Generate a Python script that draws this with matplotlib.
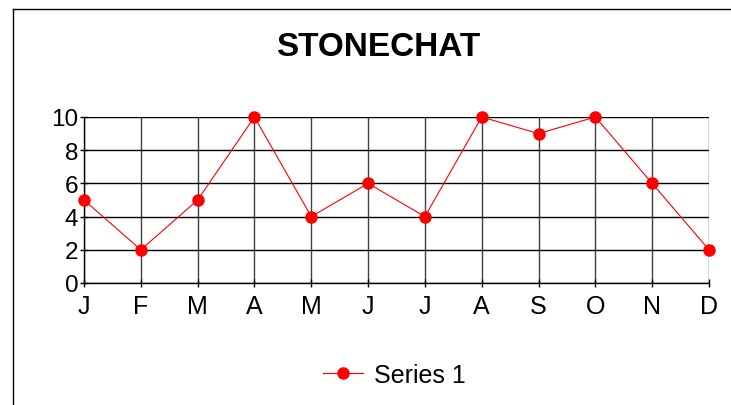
import matplotlib
matplotlib.use("Agg")
import matplotlib.pyplot as plt
from matplotlib.lines import Line2D

months = ["J", "F", "M", "A", "M", "J", "J", "A", "S", "O", "N", "D"]
values = [5, 2, 5, 10, 4, 6, 4, 10, 9, 10, 6, 2]
yticks = [0, 2, 4, 6, 8, 10]
title = "STONECHAT"
series_name = "Series 1"

plt.rcParams['font.family'] = ['Liberation Sans', 'DejaVu Sans']

W, H = 731, 406
fig = plt.figure(figsize=(W / 100, H / 100), dpi=100)
ax = fig.add_axes([84 / W, 1 - 284 / H, (709 - 84) / W, (284 - 118) / H])

x = list(range(len(months)))
ax.plot(x, values, color="red", linewidth=0.8, marker="o", markersize=8,
        markerfacecolor="red", markeredgecolor="red", label=series_name, clip_on=False, zorder=5)

ax.set_xlim(0, len(months) - 1)
ax.set_ylim(0, 10)
ax.set_xticks(x)
ax.set_xticklabels(months, fontsize=18)
ax.set_yticks(yticks)
ax.set_yticklabels([str(v) for v in yticks], fontsize=17.5)
ax.tick_params(axis="both", length=6, width=1, color="black", direction="inout")
ax.tick_params(axis="y", pad=1)
ax.tick_params(axis="x", pad=5)
ax.grid(True, axis="y", color="black", linewidth=1)
ax.grid(True, axis="x", color="#404040", linewidth=1)
for s in ["top", "right"]:
    ax.spines[s].set_visible(False)
ax.spines["left"].set_linewidth(1)
ax.spines["bottom"].set_linewidth(1)
ax.set_axisbelow(True)

fig.text(378 / W, 1 - 48 / H, title, fontsize=24, fontweight="bold", ha="center", va="center")

handle = Line2D([], [], color="red", linewidth=0.8, marker="o", markersize=8)
fig.legend([handle], [series_name], loc="center", bbox_to_anchor=(394 / W, 1 - 376 / H),
           frameon=False, fontsize=18, handlelength=1.6, handletextpad=0.45)

# figure border (partial rectangle)
fig.add_artist(Line2D([12.5 / W, 12.5 / W], [0, 1 - 10 / H], color="black", linewidth=1, transform=fig.transFigure))
fig.add_artist(Line2D([12.5 / W, 1], [1 - 10 / H, 1 - 10 / H], color="black", linewidth=1, transform=fig.transFigure))

fig.savefig("out.png", dpi=100)
